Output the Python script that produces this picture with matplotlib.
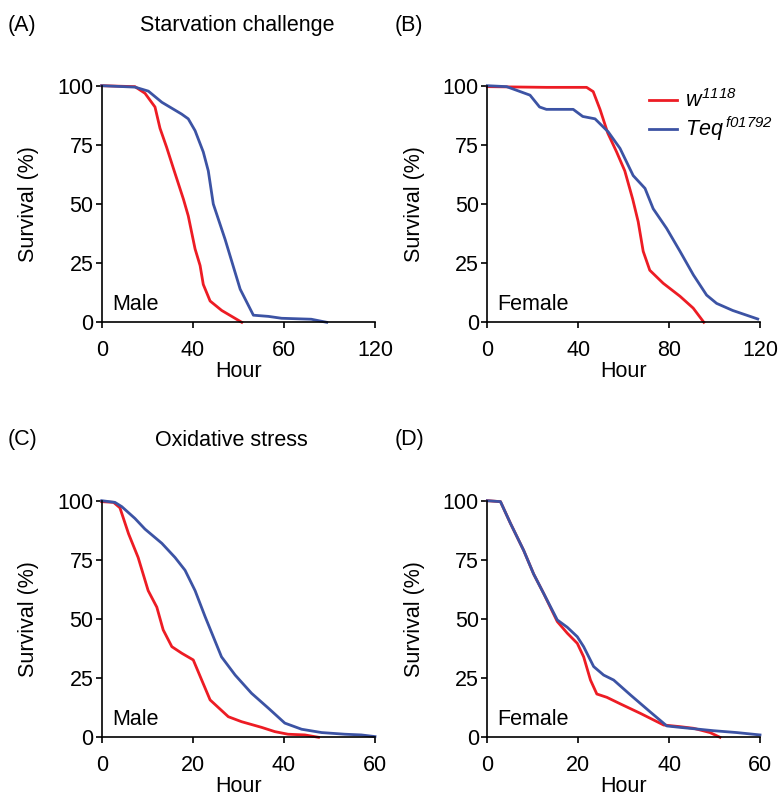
import matplotlib
matplotlib.use('Agg')
import matplotlib.pyplot as plt

plt.rcParams['font.family'] = ['Liberation Sans', 'DejaVu Sans']
plt.rcParams['mathtext.fontset'] = 'custom'
plt.rcParams['mathtext.rm'] = 'Liberation Sans:italic'
plt.rcParams['mathtext.it'] = 'Liberation Sans:italic'
plt.rcParams['font.size'] = 15.5

RED = '#ED1C24'
BLUE = '#3C53A4'

# starvation, male
a_red_h = [0, 14.6, 19, 23.4, 25.6, 28.5, 31.5, 35.9, 38, 41, 43.2, 44.6, 47.6, 52.7, 61.5]
a_red_s = [100, 99.6, 96.8, 91, 82, 74, 65, 52, 45, 31, 24, 16, 9, 5, 0]
a_blue_h = [0, 14.6, 20.5, 26.4, 35.1, 38, 41, 44.6, 46.8, 49, 54.2, 60.8, 66.6, 73.2, 79, 92, 98.8]
a_blue_s = [100, 99.4, 97.7, 93, 88, 86, 81, 72, 64, 50, 35, 14, 3, 2.5, 1.7, 1.3, 0]

# starvation, female
b_red_h = [0, 26, 43.7, 46.6, 49.6, 53, 56.9, 60.5, 64, 66.4, 68.6, 71.5, 77.4, 84.8, 90.6, 95.3]
b_red_s = [99.6, 99.3, 99.3, 97.5, 90, 80, 72, 64, 52, 42.5, 30, 22, 16.5, 11, 6, 0]
b_blue_h = [0, 8.5, 18.8, 23, 26, 37.8, 42, 47.4, 53.2, 58.4, 64.2, 69.4, 73, 78.9, 84.8, 90.7, 96.5,
            100.9, 108, 119]
b_blue_s = [100, 99.6, 96, 91, 90, 90, 87, 86, 80.5, 73.5, 62, 56.6, 48, 39.7, 30, 20, 11.5,
            8, 5, 1.4]

# oxidative, male
c_red_h = [0, 2.6, 4, 5.9, 8, 10.2, 12.1, 13.5, 15.4, 17.6, 20.1, 22, 23.8, 27.8, 30.7, 35.1,
           38, 40.9, 44.6, 47.6]
c_red_s = [99.6, 99.3, 97, 86, 76, 62, 55, 45.4, 38.3, 35.5, 32.7, 24, 15.8, 8.7, 6.6, 4.2,
           2.4, 1.3, 1, 0]
c_blue_h = [0, 2.9, 4.4, 7.3, 9.5, 13.2, 16.1, 18.3, 20.5, 22.7, 24.5, 26.3, 29.3, 32.9, 36.6,
            40.2, 43.9, 48.3, 53.4, 57, 60]
c_blue_s = [100, 99.3, 97.5, 92.5, 88, 82, 76, 70.6, 62, 51, 42.5, 34, 26.3, 18.6, 12.3,
            6, 3.4, 2, 1.3, 1, 0.3]

# oxidative, female
d_red_h = [0, 2.9, 5.1, 8, 10.2, 12.4, 15.4, 17.6, 19.8, 21.2, 22.7, 24.1, 26.3, 29.3, 33.7,
           38.8, 42.4, 45.4, 49, 51.2]
d_red_s = [100, 99.6, 90.4, 79, 69, 60.8, 48.9, 44, 39.7, 34, 24.2, 18.3, 16.9, 14.1, 10.1,
           5.2, 4.5, 3.8, 2, 0]
d_blue_h = [0, 2.9, 5.1, 8, 10.2, 12.4, 15.4, 17.6, 19.8, 21.2, 23.4, 25.6, 27.8, 31.5, 35.8,
            39.5, 42.4, 46.1, 49.7, 54.9, 60]
d_blue_s = [100, 99.6, 90.4, 79, 69, 60.8, 49.6, 46.5, 42.5, 38.3, 29.9, 26.3, 24.2, 17.9, 10.8,
            4.8, 4.2, 3.5, 2.8, 2, 1]

yticks = [0, 25, 50, 75, 100]
ab_xticks = [0, 40, 80, 120]
a_xlabels = ['0', '40', '60', '120']
b_xlabels = ['0', '40', '80', '120']
cd_xticks = [0, 20, 40, 60]

fig = plt.figure(figsize=(7.78, 7.97), dpi=100)
W, H = 778.0, 797.0


def make_axes(x0, x1, ytop, ybot):
    return fig.add_axes([x0 / W, 1 - ybot / H, (x1 - x0) / W, (ybot - ytop) / H])


def style(ax, xmax, xticks, xlabels, sex):
    ax.set_xlim(0, xmax)
    ax.set_ylim(0, 100)
    for s in ['top', 'right']:
        ax.spines[s].set_visible(False)
    for s in ['left', 'bottom']:
        ax.spines[s].set_linewidth(1.2)
    ax.set_xticks(xticks)
    ax.set_xticklabels(xlabels)
    ax.set_yticks(yticks)
    ax.tick_params(axis='x', direction='out', length=4, width=1.2, pad=9)
    ax.tick_params(axis='y', direction='out', length=4, width=1.2, pad=2)
    ax.set_xlabel('Hour', labelpad=0)
    ax.set_ylabel('Survival (%)', labelpad=13)
    ax.text(0.037, 0.052, sex, transform=ax.transAxes, ha='left', va='baseline')


lw = 2.0
ax_a = make_axes(101.7, 375, 85.7, 322.3)
ax_a.plot(a_red_h, a_red_s, color=RED, lw=lw, clip_on=False)
ax_a.plot(a_blue_h, a_blue_s, color=BLUE, lw=lw, clip_on=False)
style(ax_a, 120, ab_xticks, a_xlabels, 'Male')

ax_b = make_axes(487.3, 760, 85.7, 322.3)
l1, = ax_b.plot(b_red_h, b_red_s, color=RED, lw=lw, clip_on=False)
l2, = ax_b.plot(b_blue_h, b_blue_s, color=BLUE, lw=lw, clip_on=False)
style(ax_b, 120, ab_xticks, b_xlabels, 'Female')
ax_b.legend([l1, l2], [r'$w^{1118}$', r'$Teq^{\,f01792}$'],
            loc='upper left', bbox_to_anchor=(0.56, 1.02), frameon=False, fontsize=15.5,
            handlelength=1.3, handletextpad=0.4, labelspacing=0.1, borderaxespad=0)

ax_c = make_axes(101.7, 375, 500.7, 737.3)
ax_c.plot(c_red_h, c_red_s, color=RED, lw=lw, clip_on=False)
ax_c.plot(c_blue_h, c_blue_s, color=BLUE, lw=lw, clip_on=False)
style(ax_c, 60, cd_xticks, [str(t) for t in cd_xticks], 'Male')

ax_d = make_axes(487.3, 760, 500.7, 737.3)
ax_d.plot(d_red_h, d_red_s, color=RED, lw=lw, clip_on=False)
ax_d.plot(d_blue_h, d_blue_s, color=BLUE, lw=lw, clip_on=False)
style(ax_d, 60, cd_xticks, [str(t) for t in cd_xticks], 'Female')

fig.text(8 / W, 1 - 25 / H, '(A)', va='center', ha='left')
fig.text(140 / W, 1 - 25 / H, 'Starvation challenge', va='center', ha='left')
fig.text(395 / W, 1 - 25 / H, '(B)', va='center', ha='left')
fig.text(8 / W, 1 - 440 / H, '(C)', va='center', ha='left')
fig.text(155 / W, 1 - 440 / H, 'Oxidative stress', va='center', ha='left')
fig.text(395 / W, 1 - 440 / H, '(D)', va='center', ha='left')

fig.savefig('out.png', dpi=100)
